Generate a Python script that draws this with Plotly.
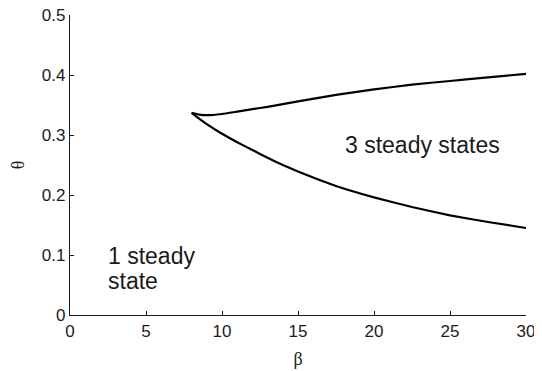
import plotly.graph_objects as go

# upper branch of the bifurcation curve
upper_beta = [8.0, 8.5, 9.0, 10, 11, 12, 13, 15, 17.5, 20, 22.5, 25, 27.5, 30]
upper_theta = [0.337, 0.334, 0.333, 0.335, 0.339, 0.343, 0.347, 0.356, 0.367, 0.376, 0.384, 0.390, 0.396, 0.402]

# lower branch
lower_beta = [8.0, 9, 10, 11, 12, 13, 14, 15, 17.5, 20, 22.5, 25, 27.5, 30]
lower_theta = [0.337, 0.318, 0.302, 0.288, 0.275, 0.262, 0.250, 0.239, 0.215, 0.196, 0.180, 0.166, 0.155, 0.145]

x_ticks = [0, 5, 10, 15, 20, 25, 30]
y_ticks = [0, 0.1, 0.2, 0.3, 0.4, 0.5]
y_labels = ["0", "0.1", "0.2", "0.3", "0.4", "0.5"]

ink = "#1a1a1a"

fig = go.Figure()
for xs, ys in [(upper_beta, upper_theta), (lower_beta, lower_theta)]:
    fig.add_trace(go.Scatter(
        x=xs, y=ys, mode="lines",
        line=dict(color="black", width=2.2, shape="spline", smoothing=0.3),
        showlegend=False,
    ))

fig.add_annotation(x=23.2, y=0.284, text="3 steady states", showarrow=False,
                   font=dict(size=23, color=ink))
fig.add_annotation(x=2.4, y=0.099, text="1 steady", showarrow=False,
                   xanchor="left", font=dict(size=23, color=ink))
fig.add_annotation(x=2.4, y=0.056, text="state", showarrow=False,
                   xanchor="left", font=dict(size=23, color=ink))

# the page body adds an 8px offset, so the figure is sized to fit inside the window
fig.update_layout(
    width=534, height=363,
    margin=dict(l=62, r=16, t=7, b=56),
    plot_bgcolor="white", paper_bgcolor="white",
    font=dict(family="Liberation Sans, Arial, sans-serif", size=17, color=ink),
    xaxis=dict(
        range=[0, 30], tickvals=x_ticks, showgrid=False, zeroline=False,
        showline=True, linecolor=ink, linewidth=1.2, automargin=False,
        ticks="inside", ticklen=4, tickcolor=ink, ticklabeloverflow="allow",
        title=dict(text="β", font=dict(family="Liberation Serif, serif", size=18), standoff=12),
    ),
    yaxis=dict(
        range=[0, 0.5], tickvals=y_ticks, ticktext=y_labels, showgrid=False, zeroline=False,
        showline=True, linecolor=ink, linewidth=1.2, automargin=False,
        ticks="inside", ticklen=4, tickcolor=ink, ticklabeloverflow="allow",
        title=dict(text="θ", font=dict(family="Liberation Serif, serif", size=18), standoff=18),
    ),
)

fig.write_html("out.html")
